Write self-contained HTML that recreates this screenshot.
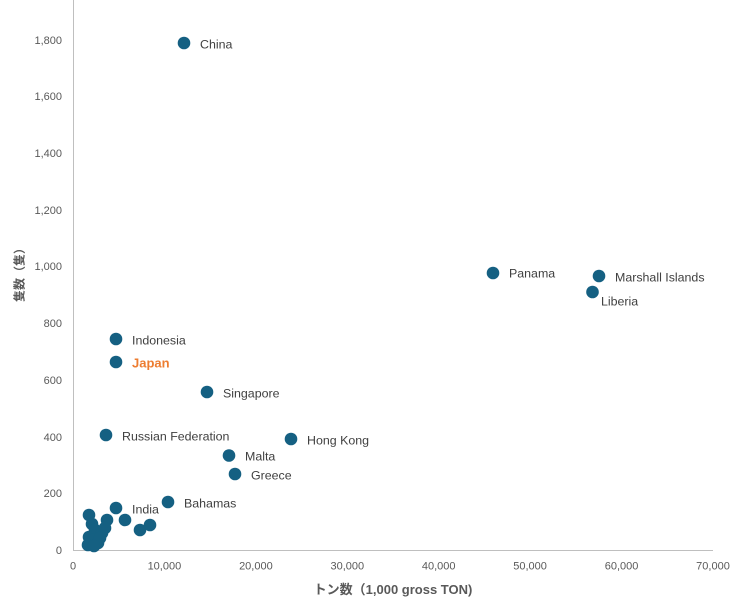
<!DOCTYPE html>
<html>
<head>
<meta charset="utf-8">
<style>
  html,body{margin:0;padding:0;background:#fff;}
  svg{display:block;}
  .tick{font-family:"Liberation Sans","Noto Sans CJK JP",sans-serif;font-size:11px;fill:#595959;}
  .lbl{font-family:"Liberation Sans","Noto Sans CJK JP",sans-serif;font-size:12.4px;fill:#404040;}
  .title{font-family:"Liberation Sans","Noto Sans CJK JP",sans-serif;font-weight:bold;fill:#595959;}
</style>
</head>
<body>
<svg width="739" height="604" viewBox="0 0 739 604" xmlns="http://www.w3.org/2000/svg">
  <rect width="739" height="604" fill="#fff"/>
  <!-- axes -->
  <line x1="73.5" y1="0" x2="73.5" y2="550.5" stroke="#bfbfbf" stroke-width="1"/>
  <line x1="73" y1="550.5" x2="713" y2="550.5" stroke="#bfbfbf" stroke-width="1"/>

  <!-- y tick labels -->
  <g class="tick" text-anchor="end">
    <text x="62" y="554">0</text>
    <text x="62" y="497">200</text>
    <text x="62" y="441">400</text>
    <text x="62" y="384">600</text>
    <text x="62" y="327">800</text>
    <text x="62" y="270">1,000</text>
    <text x="62" y="214">1,200</text>
    <text x="62" y="157">1,400</text>
    <text x="62" y="100">1,600</text>
    <text x="62" y="44">1,800</text>
  </g>
  <!-- x tick labels -->
  <g class="tick" text-anchor="middle">
    <text x="73" y="569.5">0</text>
    <text x="164.4" y="569.5">10,000</text>
    <text x="255.9" y="569.5">20,000</text>
    <text x="347.3" y="569.5">30,000</text>
    <text x="438.7" y="569.5">40,000</text>
    <text x="530.1" y="569.5">50,000</text>
    <text x="621.6" y="569.5">60,000</text>
    <text x="713" y="569.5">70,000</text>
  </g>

  <!-- axis titles -->
  <text class="title" x="393" y="594" text-anchor="middle" font-size="13">トン数（1,000 gross TON)</text>
  <text class="title" transform="translate(23.5,272) rotate(-90)" text-anchor="middle" font-size="12">隻数（隻）</text>

  <!-- points -->
  <g fill="#156082">
    <circle cx="184" cy="43" r="6.3"/>
    <circle cx="493" cy="273" r="6.3"/>
    <circle cx="599" cy="276" r="6.3"/>
    <circle cx="592.5" cy="292" r="6.3"/>
    <circle cx="116" cy="339" r="6.3"/>
    <circle cx="116" cy="362" r="6.3"/>
    <circle cx="207" cy="392" r="6.3"/>
    <circle cx="106" cy="435" r="6.3"/>
    <circle cx="291" cy="439" r="6.3"/>
    <circle cx="229" cy="455.5" r="6.3"/>
    <circle cx="235" cy="474" r="6.3"/>
    <circle cx="168" cy="502" r="6.3"/>
    <circle cx="116" cy="508" r="6.3"/>
    <!-- cluster -->
    <circle cx="89" cy="515" r="6.3"/>
    <circle cx="107" cy="520" r="6.3"/>
    <circle cx="125" cy="520" r="6.3"/>
    <circle cx="140" cy="530" r="6.3"/>
    <circle cx="150" cy="525" r="6.3"/>
    <circle cx="92" cy="524" r="6.3"/>
    <circle cx="95" cy="530" r="6.3"/>
    <circle cx="102" cy="533" r="6.3"/>
    <circle cx="105" cy="528" r="6.3"/>
    <circle cx="89" cy="537" r="6.3"/>
    <circle cx="93" cy="540" r="6.3"/>
    <circle cx="98" cy="543" r="6.3"/>
    <circle cx="100" cy="538" r="6.3"/>
    <circle cx="88" cy="545" r="6.3"/>
    <circle cx="94" cy="546" r="6.3"/>
  </g>

  <!-- labels -->
  <g class="lbl">
    <text x="200" y="48.5">China</text>
    <text x="509" y="277.5">Panama</text>
    <text x="615" y="281.5">Marshall Islands</text>
    <text x="601" y="305.5">Liberia</text>
    <text x="132" y="344.5">Indonesia</text>
    <text x="223" y="397.5">Singapore</text>
    <text x="122" y="440.5">Russian Federation</text>
    <text x="307" y="444.5">Hong Kong</text>
    <text x="245" y="460.5">Malta</text>
    <text x="251" y="479.5">Greece</text>
    <text x="184" y="507.5">Bahamas</text>
    <text x="132" y="513.5">India</text>
  </g>
  <text x="132" y="367.5" font-family="'Liberation Sans',sans-serif" font-size="13" font-weight="bold" fill="#ED7D31">Japan</text>
</svg>
</body>
</html>
